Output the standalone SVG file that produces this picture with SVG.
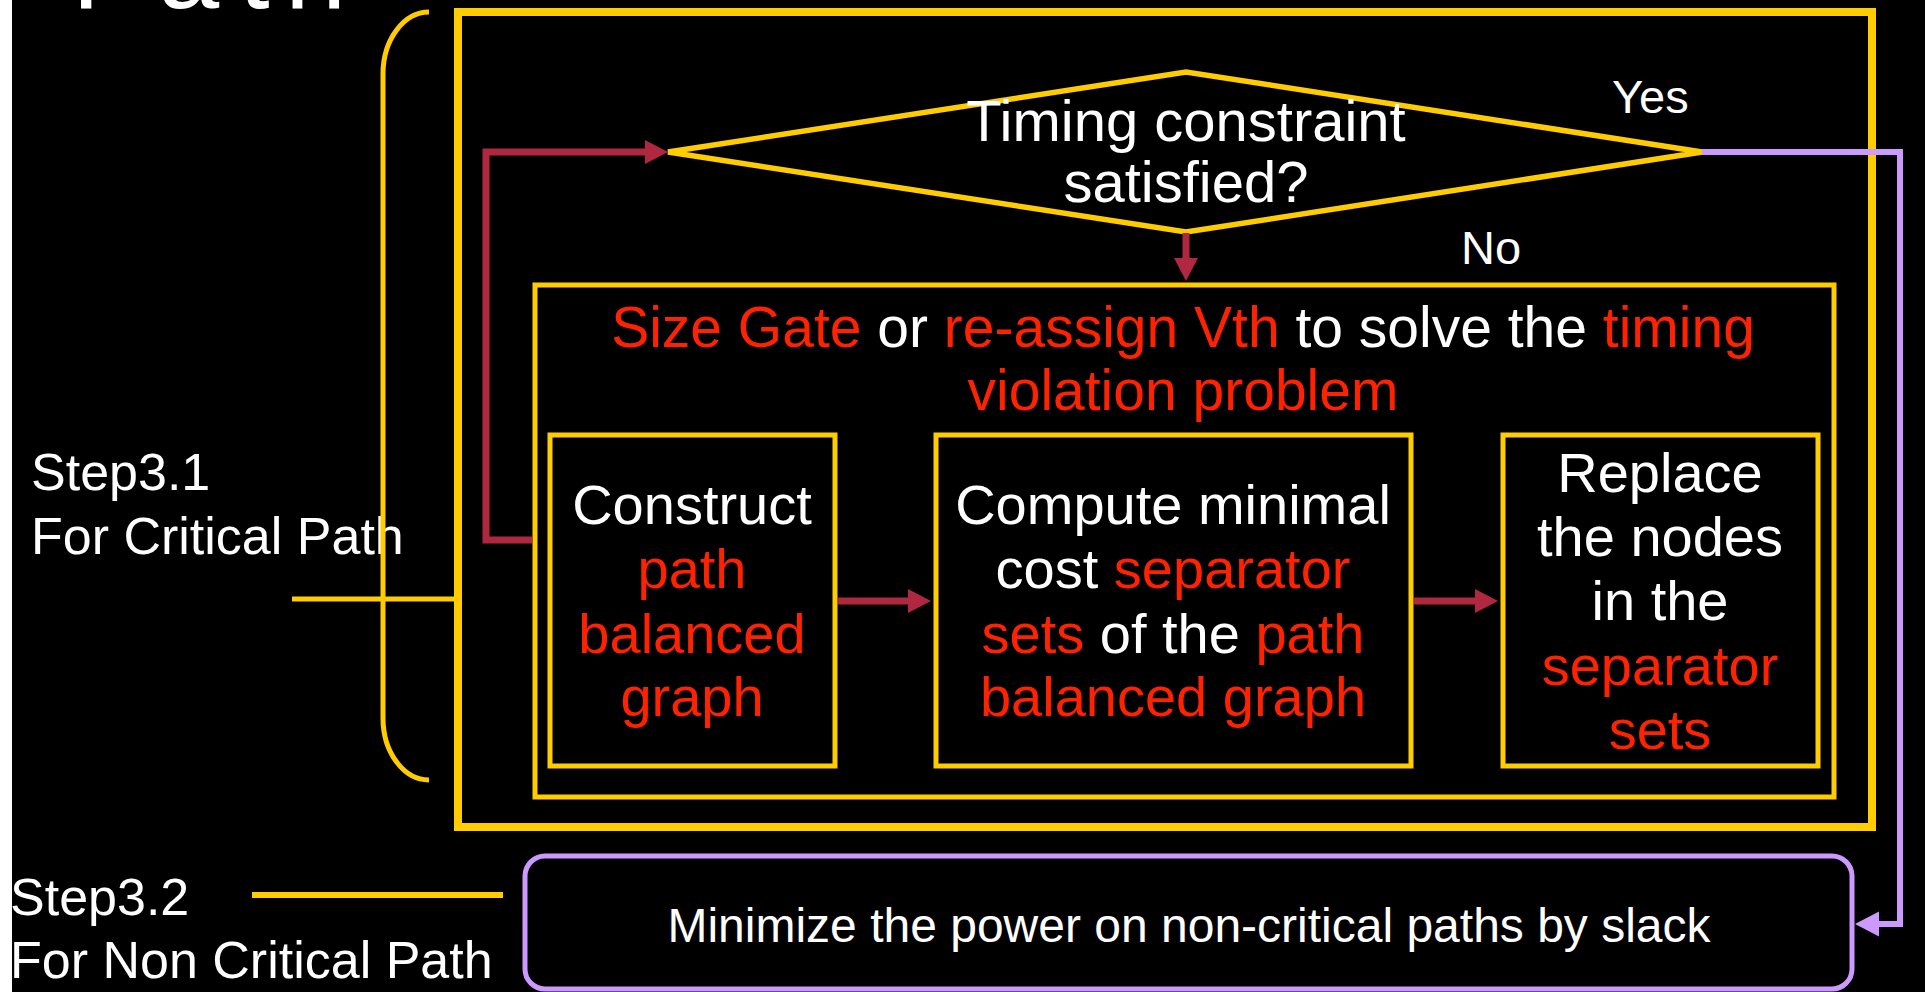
<svg xmlns="http://www.w3.org/2000/svg" width="1925" height="992" viewBox="0 0 1925 992">
<defs>
<style>
.t{font-family:"Liberation Sans",Arial,sans-serif;fill:#FFFFFF}
.r{fill:#FF2200}
.y{fill:none;stroke:#FFCC00}
.c{fill:none;stroke:#B0283F;stroke-width:7;stroke-linejoin:miter}
.p{fill:none;stroke:#CC99FF;stroke-width:6;stroke-linejoin:miter}
.m{font-size:56px}
.s{font-size:52px}
</style>
<marker id="ar" markerUnits="userSpaceOnUse" markerWidth="24" markerHeight="24" refX="0" refY="12" orient="auto" overflow="visible"><path d="M0,0 L23,12 L0,24 Z" fill="#B0283F"/></marker>
<marker id="ap" markerUnits="userSpaceOnUse" markerWidth="25" markerHeight="26" refX="0" refY="12.5" orient="auto" overflow="visible"><path d="M0,0 L24,12.5 L0,25 Z" fill="#CC99FF"/></marker>
</defs>
<rect x="0" y="0" width="1925" height="992" fill="#FFFFFF"/>
<rect x="12" y="0" width="1913" height="992" fill="#000000"/>
<text class="t" font-size="110" x="72 158 239 285" y="8">Path</text>

<g id="labels">
<text class="t s" x="31" y="490">Step3.1</text>
<text class="t s" x="31" y="554">For Critical Path</text>
<text class="t s" x="10" y="915">Step3.2</text>
<text class="t s" x="10" y="978">For Non Critical Path</text>
</g>

<g id="bracket">
<path class="y" stroke-width="5" d="M429,12 A46,62 0 0 0 383,74 L383,718 A46,62 0 0 0 429,780"/>
</g>

<g id="step31-frame">
<rect class="y" stroke-width="8" x="458" y="12" width="1414" height="815"/>
</g>

<g id="decision">
<polygon class="y" stroke-width="5.5" points="668,152 1186,72 1702,152 1186,232"/>
<text class="t" font-size="58" text-anchor="middle"><tspan x="1186" y="141">Timing constraint</tspan><tspan x="1186" y="202">satisfied?</tspan></text>
</g>

<g id="solve-box">
<rect class="y" stroke-width="5" x="535" y="285" width="1299" height="512"/>
<text class="t" font-size="57" text-anchor="middle"><tspan x="1183" y="347"><tspan class="r">Size Gate</tspan> or <tspan class="r">re-assign Vth</tspan> to solve the <tspan class="r">timing</tspan></tspan><tspan class="r" x="1183" y="410">violation problem</tspan></text>
</g>

<g id="construct">
<rect class="y" stroke-width="5" x="550" y="435" width="285" height="331"/>
<text class="t m" text-anchor="middle"><tspan x="692" y="524">Construct</tspan><tspan class="r" x="692" y="588">path</tspan><tspan class="r" x="692" y="653">balanced</tspan><tspan class="r" x="692" y="716">graph</tspan></text>
</g>

<g id="compute">
<rect class="y" stroke-width="5" x="936" y="435" width="475" height="331"/>
<text class="t m" text-anchor="middle"><tspan x="1173" y="524">Compute minimal</tspan><tspan x="1173" y="588">cost <tspan class="r">separator</tspan></tspan><tspan x="1173" y="653"><tspan class="r">sets</tspan> of the <tspan class="r">path</tspan></tspan><tspan class="r" x="1173" y="716">balanced graph</tspan></text>
</g>

<g id="replace">
<rect class="y" stroke-width="5" x="1503" y="435" width="315" height="331"/>
<text class="t m" text-anchor="middle"><tspan x="1660" y="492">Replace</tspan><tspan x="1660" y="556">the nodes</tspan><tspan x="1660" y="620">in the</tspan><tspan class="r" x="1660" y="685">separator</tspan><tspan class="r" x="1660" y="749">sets</tspan></text>
</g>

<g id="minimize">
<rect fill="none" stroke="#CC99FF" stroke-width="5" x="525" y="856" width="1327" height="133" rx="20" ry="20"/>
<text class="t" font-size="48" text-anchor="middle" x="1189" y="942">Minimize the power on non-critical paths by slack</text>
</g>

<g id="connectors">
<path class="c" d="M532,540 L486,540 L486,152 L645,152" marker-end="url(#ar)"/>
<path class="c" d="M1186,233 L1186,258" marker-end="url(#ar)"/>
<path class="c" d="M838,601 L908,601" marker-end="url(#ar)"/>
<path class="c" d="M1414,601 L1475,601" marker-end="url(#ar)"/>
<path class="p" d="M1702,152 L1900,152 L1900,924 L1879,924" marker-end="url(#ap)"/>
<path class="y" stroke-width="5" d="M292,599 L456,599"/>
<path class="y" stroke-width="6" d="M252,895 L503,895"/>
<text class="t" font-size="47" x="1612" y="113">Yes</text>
<text class="t" font-size="47" x="1461" y="264">No</text>
</g>
</svg>
